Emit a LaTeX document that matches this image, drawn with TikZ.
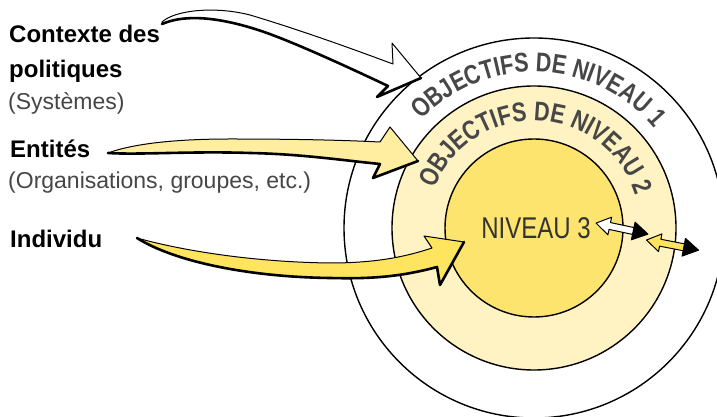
\documentclass[tikz,border=0pt]{standalone}
\usepackage{fontspec}
\setmainfont{Liberation Sans}
\newfontfamily\ringfont[FakeStretch=0.8]{Liberation Sans Bold}
\newfontfamily\midfont[FakeStretch=0.8]{Liberation Sans}
\usetikzlibrary{decorations.text,calc}
\definecolor{paleY}{RGB}{255,243,196}
\definecolor{coreY}{RGB}{253,228,110}
\definecolor{arrowY}{RGB}{255,238,160}
\definecolor{arrowYY}{RGB}{255,228,95}
\definecolor{txtgray}{RGB}{70,70,70}
\begin{document}
\begin{tikzpicture}[x=1pt,y=1pt,
  ring/.style={draw=black, line width=1.4pt},
  fatarrow/.style={draw=black, line width=1pt, line join=round},
  shadowline/.style={draw=black, line width=2.6pt, line cap=round, line join=round},
  boldlabel/.style={anchor=base west, inner sep=0pt, font=\fontsize{24}{28}\selectfont\bfseries},
  sublabel/.style={anchor=base west, inner sep=0pt, font=\fontsize{23}{27}\selectfont, text=txtgray},
  ringtext/.style={decorate, decoration={text along path, text align=center,
     text color=black!72}},
]
\clip (0,0) rectangle (717,417);
\fill[white] (0,0) rectangle (717,417);
\coordinate (C) at (534,189);
% circles
\draw[ring, fill=white] (C) circle[radius=190];
\draw[ring, fill=paleY] (C) circle[radius=142];
\draw[ring, fill=coreY] (C) circle[radius=89];
% ring texts
\path[ringtext, decoration={text={|\ringfont\fontsize{27}{27}\selectfont|OBJECTIFS DE NIVEAU 1}}]
  ($(C)+(168:156)$) arc[start angle=168, end angle=8, radius=156];
\path[ringtext, decoration={text={|\ringfont\fontsize{27}{27}\selectfont|OBJECTIFS DE NIVEAU 2}}]
  ($(C)+(173:107)$) arc[start angle=173, end angle=3, radius=107];
\node[font=\midfont\fontsize{30}{30}\selectfont, text=black!80, inner sep=0pt] (n3) at (536,189) {NIVEAU 3};
% labels
\node[boldlabel] (ctx1) at (9,374) {Contexte des};
\node[boldlabel] (ctx2) at (9,339) {politiques};
\node[sublabel] (ctx3) at (8,307) {(Systèmes)};
\node[boldlabel] (ent1) at (10,259) {Entités};
\node[sublabel] (ent2) at (8,228) {(Organisations, groupes, etc.)};
\node[boldlabel] (ind) at (10,169) {Individu};
% arrow 1 (Contexte)
\draw[fatarrow, fill=white] (162,395) .. controls (175,407) and (215,411) .. (250,402)
  .. controls (300,387) and (350,369) .. (393,353) -- (392,374) -- (421,339) -- (377,320) -- (388,331)
  .. controls (350,349) and (300,372) .. (267,384) .. controls (230,397) and (190,405) .. (162,393) -- cycle;
\draw[shadowline] (421,339) -- (377,320) -- (388,331)
  .. controls (350,349) and (300,372) .. (267,384) .. controls (230,397) and (190,405) .. (162,393);
% arrow 2 (Entites)
\draw[fatarrow, fill=arrowY] (108,264) .. controls (135,274) and (180,278) .. (230,278)
  .. controls (290,278) and (340,277) .. (380,275) -- (390,290) -- (418,256) -- (373,239) -- (380,253)
  .. controls (340,257) and (300,263) .. (250,264) .. controls (190,266) and (140,262) .. (108,264) -- cycle;
\draw[shadowline] (418,256) -- (373,239) -- (380,253)
  .. controls (340,257) and (300,263) .. (250,264) .. controls (190,266) and (140,262) .. (108,264);
% arrow 3 (Individu)
\draw[fatarrow, fill=arrowYY] (137,179) .. controls (180,167) and (250,155) .. (330,154)
  .. controls (375,154) and (405,160) .. (432,169) -- (424,181) -- (464,175) -- (440,132) -- (437,150)
  .. controls (400,140) and (370,138) .. (330,139) .. controls (250,140) and (175,155) .. (137,179) -- cycle;
\draw[shadowline] (464,175) -- (440,132) -- (437,150)
  .. controls (400,140) and (370,138) .. (330,139) .. controls (250,140) and (175,155) .. (137,179);
% double arrows
\begin{scope}[shift={(621.5,188.5)}, rotate=-12]
  \draw[fatarrow, fill=white] (-26,0) -- (-12,9) -- (-12,3.5) -- (13,3.5) -- (13,-3.5) -- (-12,-3.5) -- (-12,-9) -- cycle;
  \draw[fatarrow, fill=black] (12,9) -- (27,0) -- (12,-9) -- cycle;
\end{scope}
\begin{scope}[shift={(672,172)}, rotate=-11]
  \draw[fatarrow, fill=arrowYY] (-26,0) -- (-12,9) -- (-12,3.5) -- (13,3.5) -- (13,-3.5) -- (-12,-3.5) -- (-12,-9) -- cycle;
  \draw[fatarrow, fill=black] (12,9) -- (27,0) -- (12,-9) -- cycle;
\end{scope}
\end{tikzpicture}
\end{document}
